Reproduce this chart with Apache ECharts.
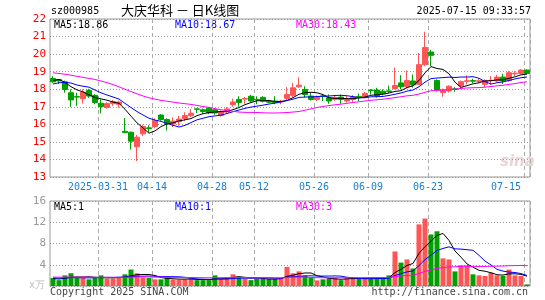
<!DOCTYPE html>
<html>
<head>
<meta charset="utf-8">
<title>大庆华科 日K线图</title>
<script src="https://cdn.jsdelivr.net/npm/echarts@6/dist/echarts.min.js"></script>
<style>
  html, body { margin: 0; padding: 0; background: #fff; }
  #chart { width: 545px; height: 300px; }
</style>
</head>
<body>
<div id="chart"></div>
<script>
// trading days shown on the chart
const days = [
  '2025-03-19','2025-03-20','2025-03-21','2025-03-24','2025-03-25','2025-03-26','2025-03-27','2025-03-28','2025-03-31',
  '2025-04-01','2025-04-02','2025-04-03','2025-04-07','2025-04-08','2025-04-09','2025-04-10','2025-04-11','2025-04-14',
  '2025-04-15','2025-04-16','2025-04-17','2025-04-18','2025-04-21','2025-04-22','2025-04-23','2025-04-24','2025-04-25','2025-04-28',
  '2025-04-29','2025-04-30','2025-05-06','2025-05-07','2025-05-08','2025-05-09','2025-05-12',
  '2025-05-13','2025-05-14','2025-05-15','2025-05-16','2025-05-19','2025-05-20','2025-05-21','2025-05-22','2025-05-23','2025-05-26',
  '2025-05-27','2025-05-28','2025-05-29','2025-05-30','2025-06-03','2025-06-04','2025-06-05','2025-06-06','2025-06-09',
  '2025-06-10','2025-06-11','2025-06-12','2025-06-13','2025-06-16','2025-06-17','2025-06-18','2025-06-19','2025-06-20','2025-06-23',
  '2025-06-24','2025-06-25','2025-06-26','2025-06-27','2025-06-30','2025-07-01','2025-07-02','2025-07-03','2025-07-04',
  '2025-07-07','2025-07-08','2025-07-09','2025-07-10','2025-07-11','2025-07-14','2025-07-15'
];

const open = [
  18.61,18.55,18.42,17.80,17.58,17.46,17.93,17.65,17.20,16.96,
  17.18,17.14,15.60,15.55,14.72,15.46,15.80,15.88,16.53,16.27,
  16.02,16.15,16.33,16.50,16.88,16.83,16.92,16.83,16.50,16.70,
  17.12,17.42,17.44,17.60,17.42,17.54,17.33,17.32,17.28,17.48,
  17.65,18.14,17.99,17.61,17.42,17.62,17.52,17.42,17.55,17.33,
  17.42,17.59,17.57,17.95,17.95,17.89,17.90,18.04,18.36,18.15,
  18.47,18.28,19.40,20.12,18.50,17.81,17.90,18.02,18.19,18.45,
  18.49,18.45,18.28,18.48,18.47,18.69,18.50,18.88,18.90,19.09
];
const close = [
  18.42,18.47,17.99,17.39,17.55,17.84,17.61,17.24,17.01,17.18,
  17.30,17.27,15.54,15.04,15.27,15.87,15.75,16.20,16.27,16.03,
  16.18,16.30,16.50,16.63,16.86,16.73,16.65,16.65,16.73,16.88,
  17.27,17.25,17.47,17.33,17.39,17.31,17.26,17.24,17.31,17.70,
  18.08,18.23,17.70,17.42,17.55,17.58,17.33,17.52,17.42,17.46,
  17.57,17.56,17.76,17.93,17.61,17.74,17.88,18.21,18.14,18.50,
  18.24,19.40,20.38,19.93,17.96,17.96,18.17,17.99,18.43,18.48,
  18.46,18.48,18.50,18.51,18.69,18.47,18.94,18.91,19.09,18.90
];
const low = [
  18.36,18.30,17.80,16.99,17.05,17.18,17.50,17.15,16.62,16.90,
  17.05,16.95,15.54,14.56,13.90,15.33,15.55,15.77,16.20,15.65,
  15.85,15.92,16.20,16.40,16.65,16.60,16.58,16.55,16.45,16.62,
  17.00,17.00,17.17,17.28,17.15,17.25,17.20,17.15,17.15,17.35,
  17.52,18.08,17.52,17.35,17.33,17.33,17.17,17.33,17.17,17.24,
  17.28,17.33,17.50,17.70,17.52,17.65,17.78,17.99,17.99,18.05,
  18.09,18.24,19.31,19.31,17.87,17.57,17.81,17.85,18.00,18.28,
  18.35,18.35,18.10,18.25,18.40,18.30,18.43,18.75,18.85,18.85
];
const high = [
  18.74,18.58,18.49,17.99,17.80,17.99,18.02,17.72,17.42,17.25,
  17.38,17.35,16.36,15.58,15.40,15.98,15.95,16.34,16.58,16.34,
  16.40,16.48,16.68,16.88,16.92,16.90,16.98,16.90,16.78,16.98,
  17.46,17.60,17.55,17.68,17.60,17.60,17.40,17.60,17.40,18.12,
  18.36,18.68,18.17,17.78,17.64,17.70,17.70,17.66,17.70,17.61,
  17.66,17.76,17.84,18.00,18.08,17.99,18.21,19.24,18.80,19.07,
  18.84,20.06,21.28,20.25,18.56,18.04,18.22,18.12,18.50,18.80,
  18.60,18.62,18.56,18.75,18.82,18.88,19.03,19.03,19.15,19.12
];
// volume, 万手
const volume = [
  1.5,1.1,2.0,2.4,1.5,1.5,1.25,1.6,2.0,1.4,
  1.4,1.5,2.2,3.1,2.4,1.6,1.5,1.25,1.25,1.6,
  1.2,1.2,1.25,1.4,1.1,1.1,1.1,2.0,1.4,1.4,
  2.2,1.75,1.4,1.1,1.4,1.4,1.3,1.3,1.5,3.6,
  2.4,2.75,2.0,1.5,1.06,1.25,1.4,1.5,1.1,1.5,
  1.5,1.5,1.5,1.4,1.4,1.4,2.0,6.5,4.4,5.0,
  3.3,11.6,12.7,9.7,10.3,5.2,5.0,2.75,3.9,3.9,
  2.2,2.0,1.9,2.5,2.0,1.9,3.1,2.0,1.9,0.3
];

// the 29 sessions before the window, estimated from where the MA lines start
const preClose = [
  19.66,19.19,19.19,19.35,19.64,19.41,19.04,19.71,19.88,20.60,
  21.17,19.74,18.94,19.17,19.47,18.75,18.60,18.37,17.53,17.68,
  17.80,17.70,17.83,18.66,18.53,18.15,18.85,18.60,18.45
];
const preVolume = [
  1.9,1.6,1.8,2.2,1.7,1.5,1.9,2.0,1.6,1.4,
  1.8,2.1,1.7,1.6,1.5,1.9,1.8,1.6,2.0,1.7,
  1.5,1.6,1.8,1.7,1.6,1.5,1.4,1.3,1.3
];

// x labels
const tickDays = ['2025-03-31','2025-04-14','2025-04-28','2025-05-12','2025-05-26','2025-06-09','2025-06-23','2025-07-15'];
const tickText = ['2025-03-31','04-14','04-28','05-12','05-26','06-09','06-23','07-15'];

const RED = '#ff5555';
const GREEN = '#00a000';
const MONO = '"DejaVu Sans Mono", monospace';

// 均线
function ma(values, pre, n) {
  const all = pre.concat(values);
  return values.map((_, i) => {
    const end = pre.length + i + 1;
    let s = 0;
    for (let k = end - n; k < end; k++) s += all[k];
    return +(s / n).toFixed(3);
  });
}

const kData = days.map((_, i) => [open[i], close[i], low[i], high[i]]);
const volData = volume.map((v, i) => ({
  value: v,
  itemStyle: { color: close[i] >= open[i] ? RED : GREEN }
}));

const isTick = (idx, val) => tickDays.indexOf(val) >= 0;

const chart = echarts.init(document.getElementById('chart'));

const lineSeries = (name, data, color, axis) => ({
  name, type: 'line', data,
  xAxisIndex: axis, yAxisIndex: axis,
  showSymbol: false, symbol: 'none',
  lineStyle: { color, width: 1 },
  silent: true, z: 5
});

const text = (t, pos, color, font) => ({
  type: 'text', ...pos,
  style: { text: t, fill: color, font: font || ('10px ' + MONO) }
});

const option = {
  animation: false,
  backgroundColor: '#fff',
  grid: [
    { left: 50, top: 19, width: 480, height: 158, show: true, borderColor: '#999', borderWidth: 1 },
    { left: 50, top: 201, width: 480, height: 85, show: true, borderColor: '#999', borderWidth: 1 }
  ],
  xAxis: [
    {
      type: 'category', gridIndex: 0, data: days, boundaryGap: true,
      axisLine: { show: false }, axisTick: { show: false },
      axisLabel: {
        interval: isTick, color: '#1a7fd0', fontFamily: MONO, fontSize: 10, margin: 5,
        padding: [0, 6, 0, 0], alignMaxLabel: 'right',
        formatter: v => tickText[tickDays.indexOf(v)]
      },
      splitLine: { show: true, interval: isTick, lineStyle: { color: '#aaa', type: [4, 3] } }
    },
    {
      type: 'category', gridIndex: 1, data: days, boundaryGap: true,
      axisLine: { show: false }, axisTick: { show: false }, axisLabel: { show: false },
      splitLine: { show: true, interval: isTick, lineStyle: { color: '#aaa', type: [4, 3] } }
    }
  ],
  yAxis: [
    {
      type: 'value', gridIndex: 0, min: 13, max: 22, interval: 1,
      axisLine: { show: false }, axisTick: { show: false },
      axisLabel: { color: '#f00', fontFamily: MONO, fontSize: 11, margin: 4 },
      splitLine: { lineStyle: { color: '#999', type: [1, 2] } }
    },
    {
      type: 'value', gridIndex: 1, min: 0, max: 16, interval: 4,
      axisLine: { show: false }, axisTick: { show: false },
      axisLabel: { color: '#999', fontFamily: MONO, fontSize: 11, margin: 4,
        formatter: v => v === 0 ? '' : v },
      splitLine: { lineStyle: { color: '#999', type: [1, 2] } }
    }
  ],
  series: [
    {
      type: 'candlestick', data: kData, xAxisIndex: 0, yAxisIndex: 0,
      barWidth: 5, silent: true,
      itemStyle: { color: RED, color0: GREEN, borderColor: RED, borderColor0: GREEN, borderWidth: 1 }
    },
    lineSeries('MA5', ma(close, preClose, 5), '#000', 0),
    lineSeries('MA10', ma(close, preClose, 10), '#0000ff', 0),
    lineSeries('MA30', ma(close, preClose, 30), '#ff00ff', 0),
    {
      type: 'bar', data: volData, xAxisIndex: 1, yAxisIndex: 1,
      barWidth: 5, silent: true
    },
    lineSeries('VMA5', ma(volume, preVolume, 5), '#000', 1),
    lineSeries('VMA10', ma(volume, preVolume, 10), '#0000ff', 1),
    lineSeries('VMA30', ma(volume, preVolume, 30), '#ff00ff', 1)
  ],
  graphic: [
    text('sz000985', { left: 51, top: 6 }, '#000'),
    text('大庆华科 － 日K线图', { left: 121, top: 4 }, '#000', '13px "Noto Sans CJK SC"'),
    text('2025-07-15 09:33:57', { right: 14, top: 6 }, '#000'),
    text('MA5:18.86', { left: 54, top: 20 }, '#000'),
    text('MA10:18.67', { left: 175, top: 20 }, '#0000ff'),
    text('MA30:18.43', { left: 296, top: 20 }, '#ff00ff'),
    text('MA5:1', { left: 54, top: 202 }, '#000'),
    text('MA10:1', { left: 175, top: 202 }, '#0000ff'),
    text('MA30:3', { left: 296, top: 202 }, '#ff00ff'),
    text('x万', { left: 29, top: 280 }, '#bbb'),
    text('Copyright 2025 SINA.COM', { left: 50, top: 287 }, '#444'),
    text('http://finance.sina.com.cn', { right: 17, top: 287 }, '#444'),
    text('sina', { left: 500, top: 155 }, '#ecd4d4', 'italic bold 15px "DejaVu Sans"')
  ]
};

chart.setOption(option);
</script>
</body>
</html>
